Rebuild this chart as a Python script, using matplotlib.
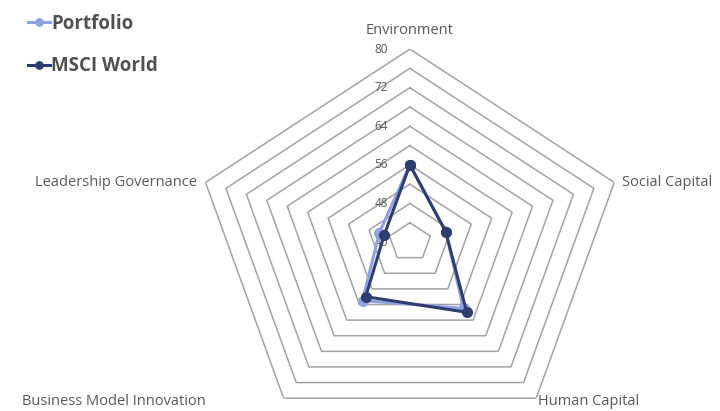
import numpy as np
import matplotlib
matplotlib.use('Agg')
import matplotlib.pyplot as plt

# Data
categories = ['Environment', 'Social Capital', 'Human Capital',
              'Business Model Innovation', 'Leadership Governance']
portfolio = [56, 47, 57, 55, 46]
msci_world = [56, 47, 58, 54, 45]
ring_values = [44, 48, 52, 56, 60, 64, 68, 72, 76, 80]
tick_labels = [80, 72, 64, 56, 48, 40]
r_min, r_max = 40, 80

plt.rcParams['font.family'] = ['Open Sans', 'DejaVu Sans']

fig = plt.figure(figsize=(7.2, 4.11), dpi=100)
# polar axes stretched (the reference is not square)
ax = fig.add_axes([0.2708, -0.0584, 0.597, 0.939], projection='polar')
ax.set_aspect('auto')
ax.set_theta_zero_location('N')
ax.set_theta_direction(-1)
ax.set_ylim(r_min, r_max)
ax.grid(False)
ax.spines['polar'].set_visible(False)
ax.set_xticks([])
ax.set_yticks([])
ax.patch.set_alpha(0)

angles = np.deg2rad(np.arange(len(categories)) * 360.0 / len(categories))
closed = np.append(angles, angles[0])

# pentagon grid
for r in ring_values:
    ax.plot(closed, [r] * len(closed), color='#a3a3a3', lw=1.1, zorder=1)

# radial tick labels on the vertical axis
for v in tick_labels:
    ax.annotate(str(v), (0, v), xytext=(-22, 0), textcoords='offset pixels',
                ha='right', va='center', fontsize=8.5, color='#595959')

# category labels
label_offsets = [(0, 19, 'center'), (8, 0, 'left'), (2, -3, 'left'),
                 (-78, -3, 'right'), (-8, 0, 'right')]
for a, name, (dx, dy, ha) in zip(angles, categories, label_offsets):
    ax.annotate(name, (a, r_max), xytext=(dx, dy), textcoords='offset pixels',
                ha=ha, va='center', fontsize=10.5, color='#595959',
                annotation_clip=False)

l1, = ax.plot(closed, portfolio + portfolio[:1], color='#8fa2e0', lw=2.2,
              marker='o', ms=7, zorder=3, label='Portfolio')
l2, = ax.plot(closed, msci_world + msci_world[:1], color='#2f3d6e', lw=2.2,
              marker='o', ms=7, zorder=4, label='MSCI World')

leg = fig.legend(handles=[l1, l2], loc='upper left', bbox_to_anchor=(0.028, 0.985),
                 frameon=False, fontsize=13.5, handlelength=1.2, handletextpad=0.05,
                 labelspacing=1.2, borderaxespad=0, markerscale=0.75)
for t in leg.get_texts():
    t.set_color('#505050')
    t.set_fontweight('bold')

fig.savefig('out.png', dpi=100)
